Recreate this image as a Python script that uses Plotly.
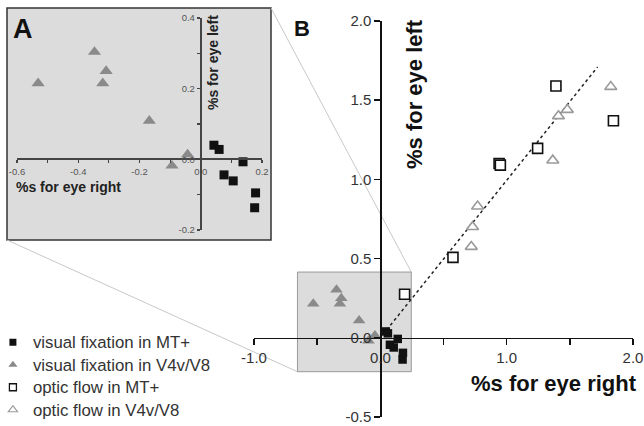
import plotly.graph_objects as go

# ---------------- data ----------------
vf_mt_x = [0.043, 0.060, 0.138, 0.076, 0.106, 0.179, 0.176]
vf_mt_y = [0.040, 0.028, -0.007, -0.044, -0.061, -0.095, -0.137]
vf_v4_x = [-0.531, -0.347, -0.309, -0.320, -0.168, -0.043, -0.094]
vf_v4_y = [0.215, 0.304, 0.250, 0.215, 0.109, 0.014, -0.018]
of_mt_x = [1.39, 1.845, 1.245, 0.94, 0.95, 0.575, 0.192]
of_mt_y = [1.59, 1.37, 1.196, 1.10, 1.09, 0.508, 0.275]
of_v4_x = [1.824, 1.48, 1.41, 1.365, 0.77, 0.73, 0.72]
of_v4_y = [1.585, 1.44, 1.40, 1.12, 0.83, 0.70, 0.575]
fit_x = [0.02, 1.72]
fit_y = [0.02, 1.71]

series_names = ["visual fixation in MT+", "visual fixation in V4v/V8",
                "optic flow in MT+", "optic flow in V4v/V8"]

main_xticks = [-1.0, -0.5, 0.0, 0.5, 1.0, 1.5, 2.0]
main_xticktext = ["-1.0", "", "0.0", "", "1.0", "", "2.0"]
main_yticks = [-0.5, 0.0, 0.5, 1.0, 1.5, 2.0]
main_yticktext = ["-0.5", "0.0", "0.5", "1.0", "1.5", "2.0"]
ins_xticks = [-0.6, -0.5, -0.4, -0.3, -0.2, -0.1, 0.0, 0.1, 0.2]
ins_xticktext = ["-0.6", "", "-0.4", "", "-0.2", "", "0.0", "", "0.2"]
ins_yticks = [-0.2, -0.1, 0.0, 0.1, 0.2, 0.3, 0.4]
ins_yticktext = ["-0.2", "", "0.0", "", "0.2", "", "0.4"]

zoom_x = [-0.656, 0.245]
zoom_y = [-0.214, 0.415]

# ---------------- layout geometry ----------------
W, H = 644, 426
FONT = "Liberation Sans, Arial, sans-serif"
MX_RANGE = [-1.0, 2.0]
MY_RANGE = [-0.5, 2.0]
MX_DOM = [254 / W, 633 / W]
MY_DOM = [9 / H, 405 / H]
IX_RANGE = [-0.6, 0.2]
IY_RANGE = [-0.2, 0.4]
IX_DOM = [17 / W, 262 / W]
IY_DOM = [196 / H, 408 / H]
INSET_BOX = [7 / W, 271 / W, (H - 240) / H, (H - 8) / H]


def to_paper(v, rng, dom):
    return dom[0] + (v - rng[0]) / (rng[1] - rng[0]) * (dom[1] - dom[0])


mx0 = to_paper(0, MX_RANGE, MX_DOM)
my0 = to_paper(0, MY_RANGE, MY_DOM)
ix0 = to_paper(0, IX_RANGE, IX_DOM)
iy0 = to_paper(0, IY_RANGE, IY_DOM)

fig = go.Figure()

GRAY_TRI = "#8a8a8a"
OPEN_TRI = "#9a9a9a"

# main plot traces
fig.add_trace(go.Scatter(x=fit_x, y=fit_y, mode="lines", showlegend=False,
                         line=dict(color="#222", width=1.5, dash="dot"),
                         xaxis="x", yaxis="y"))
fig.add_trace(go.Scatter(x=vf_v4_x, y=vf_v4_y, mode="markers", showlegend=False,
                         marker=dict(symbol="triangle-up", size=11, color=GRAY_TRI,
                                     line=dict(width=0)), xaxis="x", yaxis="y"))
fig.add_trace(go.Scatter(x=vf_mt_x, y=vf_mt_y, mode="markers", showlegend=False,
                         marker=dict(symbol="square", size=8.5, color="#111",
                                     line=dict(width=0)), xaxis="x", yaxis="y"))
fig.add_trace(go.Scatter(x=of_mt_x, y=of_mt_y, mode="markers", showlegend=False,
                         marker=dict(symbol="square", size=10, color="white",
                                     line=dict(color="#111", width=1.6)),
                         xaxis="x", yaxis="y"))
fig.add_trace(go.Scatter(x=of_v4_x, y=of_v4_y, mode="markers", showlegend=False,
                         marker=dict(symbol="triangle-up", size=10.5, color="white",
                                     line=dict(color=OPEN_TRI, width=1.6)),
                         xaxis="x", yaxis="y"))

# inset traces
fig.add_trace(go.Scatter(x=vf_v4_x, y=vf_v4_y, mode="markers", showlegend=False,
                         marker=dict(symbol="triangle-up", size=11.5, color=GRAY_TRI,
                                     line=dict(width=0)), xaxis="x2", yaxis="y2"))
fig.add_trace(go.Scatter(x=vf_mt_x, y=vf_mt_y, mode="markers", showlegend=False,
                         marker=dict(symbol="square", size=9, color="#111",
                                     line=dict(width=0)), xaxis="x2", yaxis="y2"))

# legend-only entries (small symbols like the reference)
leg_styles = [
    dict(symbol="square", size=7, color="#111", line=dict(width=0)),
    dict(symbol="triangle-up", size=8, color=GRAY_TRI, line=dict(width=0)),
    dict(symbol="square", size=7, color="white", line=dict(color="#111", width=1.3)),
    dict(symbol="triangle-up", size=8, color="white", line=dict(color=OPEN_TRI, width=1.2)),
]
for name, st in zip(series_names, leg_styles):
    fig.add_trace(go.Scatter(x=[None], y=[None], mode="markers",
                             name="<span style='font-size:16.8px'>" + name + "</span>",
                             marker=st, xaxis="x", yaxis="y"))

shapes = []
# inset grey background
shapes.append(dict(type="rect", xref="paper", yref="paper",
                   x0=INSET_BOX[0], x1=INSET_BOX[1], y0=INSET_BOX[2], y1=INSET_BOX[3],
                   fillcolor="#dcdcdc", line=dict(color="#333", width=1.5), layer="below"))
# main zoom box
shapes.append(dict(type="rect", xref="x", yref="y",
                   x0=zoom_x[0], x1=zoom_x[1], y0=zoom_y[0], y1=zoom_y[1],
                   fillcolor="#dcdcdc", line=dict(color="#999", width=1), layer="below"))
# connector lines
bx_l = to_paper(zoom_x[0], MX_RANGE, MX_DOM)
bx_r = to_paper(zoom_x[1], MX_RANGE, MX_DOM)
by_b = to_paper(zoom_y[0], MY_RANGE, MY_DOM)
by_t = to_paper(zoom_y[1], MY_RANGE, MY_DOM)
shapes.append(dict(type="line", xref="paper", yref="paper",
                   x0=INSET_BOX[1], y0=INSET_BOX[3], x1=bx_r, y1=by_t,
                   line=dict(color="#c8c8c8", width=1), layer="below"))
shapes.append(dict(type="line", xref="paper", yref="paper",
                   x0=INSET_BOX[0], y0=INSET_BOX[2], x1=bx_l, y1=by_b,
                   line=dict(color="#c8c8c8", width=1), layer="below"))

annotations = [
    dict(text="<b>%s for eye right</b>", x=639 / W, y=1 - 383 / H, xref="paper", yref="paper",
         xanchor="right", yanchor="middle", showarrow=False,
         font=dict(family=FONT, size=22, color="#111")),
    dict(text="<b>%s for eye left</b>", x=415 / W, y=1 - 94 / H, xref="paper", yref="paper",
         xanchor="center", yanchor="middle", textangle=-90, showarrow=False,
         font=dict(family=FONT, size=22, color="#111")),
    dict(text="<b>%s for eye right</b>", x=14 / W, y=1 - 187 / H, xref="paper", yref="paper",
         xanchor="left", yanchor="middle", showarrow=False,
         font=dict(family=FONT, size=14, color="#222")),
    dict(text="<b>%s for eye left</b>", x=213 / W, y=1 - 63 / H, xref="paper", yref="paper",
         xanchor="center", yanchor="middle", textangle=-90, showarrow=False,
         font=dict(family=FONT, size=14, color="#222")),
    dict(text="<b>A</b>", x=11 / W, y=1 - 29 / H, xref="paper", yref="paper",
         xanchor="left", yanchor="middle", showarrow=False,
         font=dict(family=FONT, size=27, color="#111")),
    dict(text="<b>B</b>", x=292 / W, y=1 - 29 / H, xref="paper", yref="paper",
         xanchor="left", yanchor="middle", showarrow=False,
         font=dict(family=FONT, size=22, color="#111")),
]

axis_common = dict(showgrid=False, zeroline=False, showline=True, ticks="outside",
                   automargin=False, fixedrange=True)

fig.update_layout(
    width=W, height=H,
    margin=dict(l=0, r=0, t=0, b=0, autoexpand=False),
    paper_bgcolor="white", plot_bgcolor="rgba(0,0,0,0)",
    font=dict(family=FONT, color="#333"),
    hovermode=False,
    xaxis=dict(**axis_common, domain=MX_DOM, range=MX_RANGE, anchor="free", position=my0,
               tickvals=main_xticks, ticktext=main_xticktext, linecolor="#111", linewidth=1.5,
               tickcolor="#111", tickwidth=1.5, ticklen=6,
               tickfont=dict(family=FONT, size=15, color="#333")),
    yaxis=dict(**axis_common, domain=MY_DOM, range=MY_RANGE, anchor="free", position=mx0,
               tickvals=main_yticks, ticktext=main_yticktext, linecolor="#111", linewidth=1.5,
               tickcolor="#111", tickwidth=1.5, ticklen=6,
               tickfont=dict(family=FONT, size=15, color="#333")),
    xaxis2=dict(**axis_common, domain=IX_DOM, range=IX_RANGE, anchor="free", position=iy0,
                tickvals=ins_xticks, ticktext=ins_xticktext, linecolor="#444", linewidth=2,
                tickcolor="#444", tickwidth=1.2, ticklen=3,
                tickfont=dict(family=FONT, size=9.5, color="#555")),
    yaxis2=dict(**axis_common, domain=IY_DOM, range=IY_RANGE, anchor="free", position=ix0,
                tickvals=ins_yticks, ticktext=ins_yticktext, linecolor="#444", linewidth=2,
                tickcolor="#444", tickwidth=1.2, ticklen=3,
                tickfont=dict(family=FONT, size=9.5, color="#555")),
    shapes=shapes,
    annotations=annotations,
    legend=dict(x=-0.011, xanchor="left", y=1 - 326 / H, yanchor="top",
                bgcolor="rgba(0,0,0,0)", font=dict(family=FONT, size=15, color="#333"),
                itemsizing="trace", itemclick=False, itemdoubleclick=False),
    showlegend=True,
)

fig.write_html("out.html", config={"displayModeBar": False, "staticPlot": True},
               post_script="document.body.style.margin='0';document.body.style.overflow='hidden';")
